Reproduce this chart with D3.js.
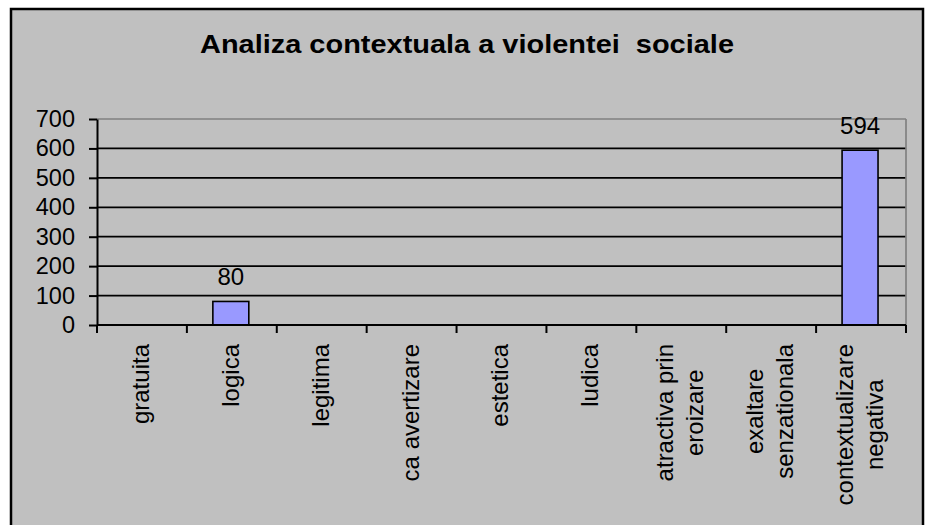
<!DOCTYPE html>
<html>
<head>
<meta charset="utf-8">
<script src="https://cdn.jsdelivr.net/npm/d3@7/dist/d3.min.js"></script>
<style>
  html, body { margin: 0; padding: 0; background: #ffffff; }
  svg { display: block; }
  text { font-family: "Liberation Sans", Arial, sans-serif; fill: #000; }
</style>
</head>
<body>
<svg id="chart" width="930" height="525"></svg>
<script>
const title = "Analiza contextuala a violentei  sociale";
const categories = [
  "gratuita", "logica", "legitima", "ca avertizare", "estetica", "ludica",
  "atractiva prin\neroizare", "exaltare\nsenzationala", "contextualizare\nnegativa"
];
const values = [0, 80, 0, 0, 0, 0, 0, 0, 594];
const yTicks = [0, 100, 200, 300, 400, 500, 600, 700];

const svg = d3.select("#chart");
const plot = { left: 97, right: 906, top: 119, bottom: 325 };

// chart area background + frame
svg.append("rect").attr("x", 11).attr("y", 9).attr("width", 912).attr("height", 540)
  .attr("fill", "#c0c0c0").attr("stroke", "#000").attr("stroke-width", 2.5);

// title
svg.append("text").attr("x", 467).attr("y", 53)
  .attr("text-anchor", "middle").attr("font-size", 26.5).attr("font-weight", "bold")
  .style("white-space", "pre").attr("xml:space", "preserve")
  .attr("textLength", 534).attr("lengthAdjust", "spacingAndGlyphs")
  .text(title);

const x = d3.scaleBand().domain(categories).range([plot.left, plot.right]).padding(0);
const y = d3.scaleLinear().domain([0, 700]).range([plot.bottom, plot.top]);

// gridlines
svg.append("g").selectAll("line").data(yTicks.filter(t => t > 0)).join("line")
  .attr("x1", plot.left).attr("x2", plot.right)
  .attr("y1", d => y(d)).attr("y2", d => y(d))
  .attr("stroke", d => d === 700 ? "#808080" : "#000")
  .attr("stroke-width", 1.7);

// right plot border
svg.append("line").attr("x1", plot.right).attr("x2", plot.right)
  .attr("y1", plot.top).attr("y2", plot.bottom)
  .attr("stroke", "#808080").attr("stroke-width", 1.7);

// bars
const bw = x.bandwidth() * 0.4;
const barData = values.map((v, i) => ({ c: categories[i], v }));
svg.append("g").selectAll("rect").data(barData)
  .join("rect")
  .attr("x", d => x(d.c) + (x.bandwidth() - bw) / 2 - 1)
  .attr("y", d => y(d.v))
  .attr("width", bw)
  .attr("height", d => y(0) - y(d.v))
  .attr("fill", "#9999ff").attr("stroke", "#000").attr("stroke-width", 1.6);

// value labels
svg.append("g").selectAll("text").data(barData.filter(d => d.v > 0))
  .join("text")
  .attr("x", d => x(d.c) + x.bandwidth() / 2 - 1)
  .attr("y", d => y(d.v) - 16.5)
  .attr("text-anchor", "middle").attr("font-size", 24)
  .text(d => d.v);

// y axis
const yAxis = d3.axisLeft(y).tickValues(yTicks).tickSizeInner(8).tickSizeOuter(0).tickPadding(14);
const gy = svg.append("g").attr("transform", `translate(${plot.left},0)`).call(yAxis);
gy.selectAll("text").attr("font-size", 23.5).attr("font-family", "Liberation Sans, Arial, sans-serif").attr("fill", "#000");
gy.selectAll("line").attr("stroke", "#000").attr("stroke-width", 2);
gy.select(".domain").attr("stroke", "#000").attr("stroke-width", 2);

// x axis (ticks at category boundaries)
svg.append("line").attr("x1", plot.left).attr("x2", plot.right)
  .attr("y1", plot.bottom).attr("y2", plot.bottom)
  .attr("stroke", "#000").attr("stroke-width", 2);
const bounds = categories.map(c => x(c)).concat([plot.right]);
svg.append("g").selectAll("line").data(bounds).join("line")
  .attr("x1", d => d).attr("x2", d => d)
  .attr("y1", plot.bottom).attr("y2", plot.bottom + 8)
  .attr("stroke", "#000").attr("stroke-width", 2);

// x labels: rotated, block top-aligned, lines centered within block
const labelTop = 344, lineGap = 30, fs = 24;
categories.forEach(c => {
  const lines = c.split("\n");
  const cx = x(c) + x.bandwidth() / 2 - 1;
  const g = svg.append("g");
  const texts = lines.map((ln, i) => {
    const off = (i - (lines.length - 1) / 2) * lineGap;
    return g.append("text").attr("font-size", fs).attr("text-anchor", "middle").text(ln)
      .attr("data-off", off);
  });
  const maxW = d3.max(texts, t => t.node().getComputedTextLength());
  const cy = labelTop + maxW / 2;
  texts.forEach(t => {
    const off = +t.attr("data-off");
    const bx = cx + off + fs * 0.33;
    t.attr("transform", `translate(${bx},${cy}) rotate(-90)`).attr("x", 0).attr("y", 0);
  });
});
</script>
</body>
</html>
